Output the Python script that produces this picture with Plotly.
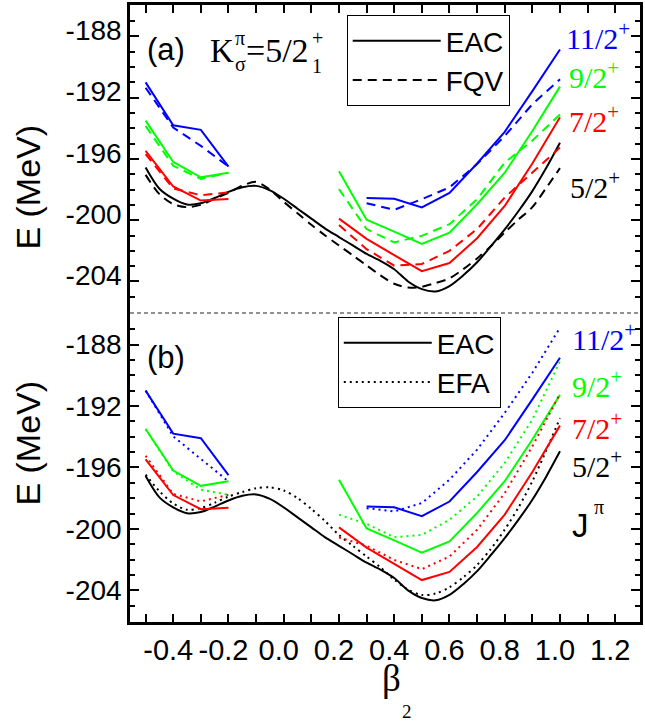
import plotly.graph_objects as go

# ---------------- data ----------------
beta_fine = [-0.5, -0.45, -0.4, -0.35, -0.3, -0.25, -0.2, -0.15, -0.1, -0.05, 0.0,
             0.05, 0.1, 0.15, 0.2, 0.25, 0.3, 0.35, 0.4, 0.45, 0.5, 0.55, 0.6,
             0.65, 0.7, 0.75, 0.8, 0.85, 0.9, 0.95, 1.0]
beta_obl = [-0.5, -0.4, -0.3, -0.2]
beta_pro20 = [0.2, 0.3, 0.4, 0.5, 0.6, 0.7, 0.8, 0.9, 1.0]
beta_pro30 = [0.3, 0.4, 0.5, 0.6, 0.7, 0.8, 0.9, 1.0]

# J = 5/2+ (band head), smooth curves
E52_EAC = [-196.56, -197.95, -198.6, -198.98, -198.9, -198.55, -198.15, -197.85, -197.76,
           -198.05, -198.6, -199.25, -199.9, -200.55, -201.1, -201.65, -202.2, -202.65,
           -203.2, -204.0, -204.5, -204.65, -204.3, -203.6, -202.75, -201.7, -200.6,
           -199.4, -198.1, -196.6, -194.95]
E52_FQV = [-197.04, -198.3, -198.95, -199.15, -199.0, -198.6, -198.2, -197.75, -197.5,
           -198.0, -198.8, -199.55, -200.3, -201.0, -201.65, -202.3, -202.95, -203.6,
           -204.15, -204.4, -204.35, -204.1, -203.8, -203.2, -202.5, -201.7, -200.8,
           -199.95, -199.15, -197.9, -196.6]
E52_EFA = [-196.47, -197.55, -198.35, -198.75, -198.65, -198.3, -197.9, -197.6, -197.35,
           -197.3, -197.5, -198.0, -198.7, -199.5, -200.4, -201.1, -201.8, -202.5,
           -203.3, -203.95, -204.3, -204.2, -203.8, -203.15, -202.35, -201.3, -200.05,
           -198.6, -196.9, -194.9, -192.8]

# EAC (shared by both panels)
E112_EAC_obl = [-191.0, -193.8, -194.1, -196.5]
E112_EAC_pro = [-198.55, -198.6, -199.17, -198.22, -196.3, -194.23, -191.57, -188.86]
E92_EAC_obl = [-193.5, -196.2, -197.2, -196.9]
E92_EAC_pro = [-196.8, -199.97, -200.75, -201.55, -200.81, -198.96, -196.9, -194.18, -191.28]
E72_EAC_obl = [-195.47, -197.8, -198.72, -198.62]
E72_EAC_pro = [-199.9, -201.22, -202.28, -203.33, -202.8, -201.18, -199.07, -196.3, -193.28]

# FQV (panel a)
E112_FQV_obl = [-191.35, -193.95, -195.15, -196.5]
E112_FQV_pro = [-198.89, -199.32, -198.63, -197.86, -196.34, -194.5, -192.43, -190.8]
E92_FQV_obl = [-193.85, -196.45, -197.3, -196.9]
E92_FQV_pro = [-197.97, -200.58, -201.45, -201.02, -200.26, -198.63, -196.24, -194.8, -193.1]
E72_FQV_obl = [-195.69, -197.93, -198.37, -198.19]
E72_FQV_pro = [-200.32, -201.89, -202.97, -202.86, -202.0, -200.58, -198.52, -196.89, -195.26]

# EFA (panel b)
E112_EFA_obl = [-191.0, -193.98, -195.45, -196.91]
E112_EFA_pro = [-198.65, -198.87, -198.32, -196.8, -194.84, -192.45, -189.84, -186.91]
E92_EFA_obl = [-193.5, -196.26, -197.45, -197.78]
E92_EFA_pro = [-199.08, -199.67, -200.54, -200.39, -199.41, -197.89, -195.71, -192.89, -189.09]
E72_EFA_obl = [-195.24, -197.73, -198.21, -197.78]
E72_EFA_pro = [-200.56, -201.1, -202.02, -202.62, -201.8, -200.06, -197.67, -194.63, -191.21]

x_tickvals = [-0.4, -0.2, 0.0, 0.2, 0.4, 0.6, 0.8, 1.0, 1.2]
x_ticktext = ["-0.4", "-0.2", "0.0", "0.2", "0.4", "0.6", "0.8", "1.0", "1.2"]
y_tickvals = [-204, -200, -196, -192, -188]
y_ticktext = ["-204", "-200", "-196", "-192", "-188"]

# ---------------- style ----------------
W, H = 645, 725
L, R, T, B = 130, 643, 5, 622
SANS = "Liberation Sans, Arial, sans-serif"
SERIF = "Liberation Serif, Times New Roman, serif"
BLUE, GREEN, RED, BLACK = "#0000FF", "#00FF00", "#FF0000", "#000000"
DASH = "9px,6px"
DOT = "2px,4px"
LW = 2


def pxx(px):
    return (px - L) / (R - L)


def pxy(py):
    return (B - py) / (B - T)


split = pxy(313)

fig = go.Figure()


def add(x, y, color, dash, panel, name=None, legend=None, smooth=False):
    xa, ya = ("x2", "y2") if panel == "a" else ("x", "y")
    line = dict(color=color, width=LW, dash=dash)
    if smooth:
        line["shape"] = "spline"
        line["smoothing"] = 0.8
    fig.add_trace(go.Scatter(
        x=x, y=y, mode="lines", line=line, xaxis=xa, yaxis=ya,
        name=name, showlegend=name is not None,
        legend=legend if legend else "legend",
        hoverinfo="skip"))


# panel (a): EAC solid, FQV dashed
add(beta_fine, E52_EAC, BLACK, "solid", "a", "EAC", "legend", True)
add(beta_fine, E52_FQV, BLACK, DASH, "a", "FQV", "legend", True)
for c, eo, ep, bp in [(RED, E72_EAC_obl, E72_EAC_pro, beta_pro20),
                      (GREEN, E92_EAC_obl, E92_EAC_pro, beta_pro20),
                      (BLUE, E112_EAC_obl, E112_EAC_pro, beta_pro30)]:
    add(beta_obl, eo, c, "solid", "a")
    add(bp, ep, c, "solid", "a")
for c, eo, ep, bp in [(RED, E72_FQV_obl, E72_FQV_pro, beta_pro20),
                      (GREEN, E92_FQV_obl, E92_FQV_pro, beta_pro20),
                      (BLUE, E112_FQV_obl, E112_FQV_pro, beta_pro30)]:
    add(beta_obl, eo, c, DASH, "a")
    add(bp, ep, c, DASH, "a")

# panel (b): EAC solid, EFA dotted
add(beta_fine, E52_EAC, BLACK, "solid", "b", "EAC", "legend2", True)
add(beta_fine, E52_EFA, BLACK, DOT, "b", "EFA", "legend2", True)
for c, eo, ep, bp in [(RED, E72_EAC_obl, E72_EAC_pro, beta_pro20),
                      (GREEN, E92_EAC_obl, E92_EAC_pro, beta_pro20),
                      (BLUE, E112_EAC_obl, E112_EAC_pro, beta_pro30)]:
    add(beta_obl, eo, c, "solid", "b")
    add(bp, ep, c, "solid", "b")
for c, eo, ep, bp in [(RED, E72_EFA_obl, E72_EFA_pro, beta_pro20),
                      (GREEN, E92_EFA_obl, E92_EFA_pro, beta_pro20),
                      (BLUE, E112_EFA_obl, E112_EFA_pro, beta_pro30)]:
    add(beta_obl, eo, c, DOT, "b")
    add(bp, ep, c, DOT, "b")

xr = [-0.5565, 1.2897]
yr = [-206.06, -185.95]

common_x = dict(range=xr, showgrid=False, zeroline=False, showline=True,
                linecolor="black", linewidth=2.5, ticks="inside", ticklen=8,
                tickwidth=2, tickcolor="black",
                tickmode="array", tickvals=x_tickvals, ticktext=x_ticktext,
                minor=dict(tickmode="linear", tick0=0.1, dtick=0.2, ticks="inside",
                           ticklen=8, tickwidth=2, tickcolor="black", showgrid=False))
common_y = dict(range=yr, showgrid=False, zeroline=False, showline=True,
                linecolor="black", linewidth=2.5, ticks="inside", ticklen=9,
                tickwidth=2, tickcolor="black", mirror="allticks",
                tickmode="array", tickvals=y_tickvals, ticktext=y_ticktext,
                tickfont=dict(family=SANS, size=28, color="black"),
                minor=dict(tickmode="linear", tick0=-188, dtick=1, ticks="inside",
                           ticklen=5, tickwidth=2, tickcolor="black", showgrid=False))

legend_common = dict(xanchor="left", yanchor="top", bordercolor="black", borderwidth=1,
                     bgcolor="white", font=dict(family=SANS, size=28, color="black"),
                     itemwidth=88, traceorder="normal")

fig.update_layout(
    width=W, height=H, margin=dict(l=L, r=W - R, t=T, b=H - B),
    paper_bgcolor="white", plot_bgcolor="white",
    xaxis=dict(common_x, anchor="y", domain=[0, 1],
               tickfont=dict(family=SANS, size=29, color="black"),
               ticklabelshift=-5, ticklabelstandoff=0),
    xaxis2=dict(common_x, anchor="y2", domain=[0, 1], side="top", matches="x",
                showticklabels=False),
    yaxis=dict(common_y, anchor="x", domain=[0, split]),
    yaxis2=dict(common_y, anchor="x2", domain=[split, 1], ticklabelshift=-6),
    legend=dict(legend_common, x=pxx(348), y=pxy(15)),
    legend2=dict(legend_common, x=pxx(339), y=pxy(317)),
    shapes=[dict(type="line", xref="paper", yref="paper", x0=0, x1=1, y0=split, y1=split,
                 line=dict(color="#222222", width=1, dash="4px,3px"))],
)

ann = []


def ptext(text, px, py, size, family=SANS, color="black", xanchor="left", angle=0):
    ann.append(dict(text=text, x=pxx(px), y=pxy(py), xref="paper", yref="paper",
                    xanchor=xanchor, yanchor="middle", showarrow=False, textangle=angle,
                    font=dict(family=family, size=size, color=color)))


def dtext(text, xb, ye, panel, size, color, family=SERIF):
    ann.append(dict(text=text, x=xb, y=ye, xref="x2" if panel == "a" else "x",
                    yref="y2" if panel == "a" else "y", xanchor="left", yanchor="middle",
                    showarrow=False, font=dict(family=family, size=size, color=color)))


# panel labels
ptext("(a)", 145, 49, 31)
ptext("K", 208, 51, 33, SERIF)
ptext("π", 234, 38, 20, SERIF)
ptext("σ", 234, 64, 20, SERIF)
ptext("=5/2", 245, 51, 34, SERIF)
ptext("+", 311, 38, 20, SERIF)
ptext("1", 311, 66, 20, SERIF)
ptext("(b)", 145, 357, 31)

# J^pi labels
dtext("11/2<sup>+</sup>", 1.015, -188.0, "a", 30, BLUE)
dtext("9/2<sup>+</sup>", 1.025, -190.5, "a", 30, GREEN)
dtext("7/2<sup>+</sup>", 1.025, -193.4, "a", 30, RED)
dtext("5/2<sup>+</sup>", 1.03, -197.7, "a", 30, BLACK)
dtext("11/2<sup>+</sup>", 1.035, -187.5, "b", 30, BLUE)
dtext("9/2<sup>+</sup>", 1.035, -190.6, "b", 30, GREEN)
dtext("7/2<sup>+</sup>", 1.035, -193.3, "b", 30, RED)
dtext("5/2<sup>+</sup>", 1.035, -195.8, "b", 30, BLACK)
ptext("J", 573, 525, 33)
ptext("π", 595, 507, 20, SERIF)

# axis titles
ptext("E (MeV)", 27, 187, 34, angle=-90, xanchor="center")
ptext("E (MeV)", 27, 443, 34, angle=-90, xanchor="center")
ptext("β", 381, 678, 37, SERIF)
ptext("2", 402, 712, 19, SERIF)

fig.update_layout(annotations=ann)
fig.write_html("out.html")
